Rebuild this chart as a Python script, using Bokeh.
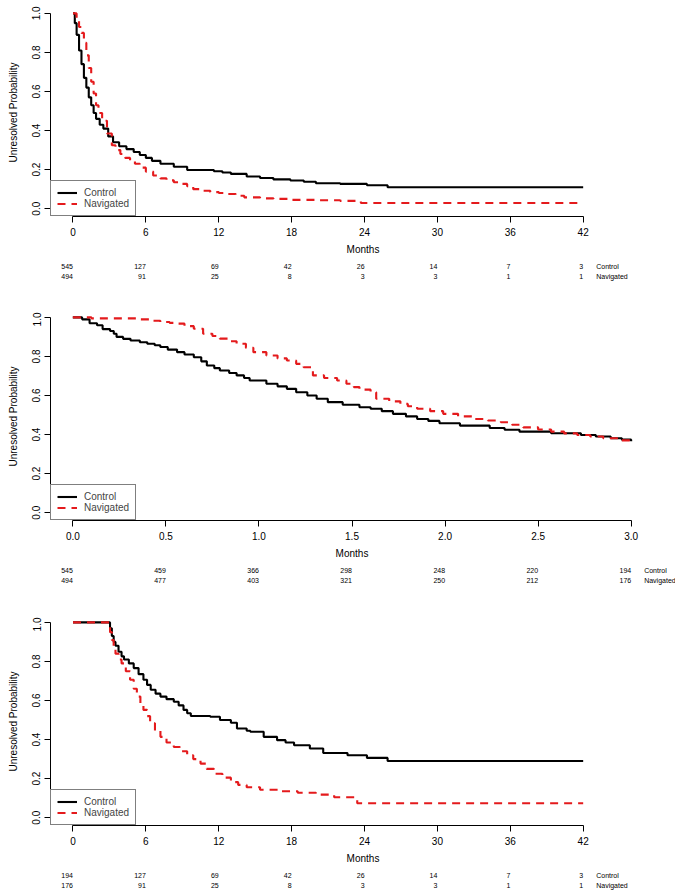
from bokeh.plotting import figure
from bokeh.models import Range1d, FixedTicker, NumeralTickFormatter, ColumnDataSource
from bokeh.core.properties import value
from bokeh.layouts import column
from bokeh.embed import file_html
from bokeh.resources import INLINE

FONT = "Liberation Sans"
RED = "#E41A1C"

# ---------------- data ----------------
# Panel 1: all patients, months
p1_ctrl_t = [0, 0.15, 0.3, 0.5, 0.7, 0.9, 1.1, 1.3, 1.5, 1.7, 1.9, 2.2, 2.5, 2.9, 3.3, 3.8, 4.4, 5.0, 5.5, 6.0,
             6.5, 7.2, 8.3, 9.4, 11.6, 12.3, 13.0, 14.3, 15.4, 16.5, 17.9, 19.0, 20.0, 22.0, 24.2, 25.9, 42]
p1_ctrl_s = [1.0, 0.95, 0.89, 0.81, 0.74, 0.67, 0.62, 0.57, 0.53, 0.49, 0.46, 0.43, 0.41, 0.37, 0.34, 0.32, 0.305,
             0.29, 0.275, 0.26, 0.245, 0.23, 0.215, 0.198, 0.192, 0.185, 0.178, 0.165, 0.157, 0.15, 0.144, 0.138,
             0.13, 0.127, 0.12, 0.11, 0.11]
p1_nav_t = [0, 0.3, 0.5, 0.7, 0.9, 1.1, 1.3, 1.5, 1.7, 1.9, 2.1, 2.4, 2.8, 3.2, 3.5, 3.9, 4.3, 4.7, 5.1, 5.5, 6.0,
            6.6, 7.2, 7.7, 8.3, 8.8, 9.4, 9.9, 10.6, 11.3, 12.0, 12.7, 13.4, 14.1, 15.4, 16.5, 17.9, 20.0, 22.0,
            23.7, 42]
p1_nav_s = [1.0, 0.97, 0.93, 0.90, 0.85, 0.785, 0.72, 0.65, 0.59, 0.53, 0.49, 0.45, 0.385, 0.325, 0.30, 0.28, 0.26,
            0.245, 0.23, 0.21, 0.19, 0.17, 0.155, 0.145, 0.135, 0.127, 0.115, 0.10, 0.092, 0.085, 0.08, 0.075,
            0.066, 0.058, 0.053, 0.05, 0.045, 0.043, 0.04, 0.029, 0.029]

# Panel 2: first three months
p2_ctrl_t = [0, 0.05, 0.09, 0.13, 0.16, 0.2, 0.22, 0.235, 0.27, 0.31, 0.36, 0.4, 0.44, 0.47, 0.51, 0.56, 0.6, 0.65,
             0.69, 0.72, 0.76, 0.79, 0.84, 0.88, 0.92, 0.95, 1.04, 1.1, 1.15, 1.2, 1.26, 1.31, 1.37, 1.45, 1.54,
             1.6, 1.66, 1.72, 1.79, 1.85, 1.91, 1.97, 2.08, 2.24, 2.32, 2.4, 2.57, 2.73, 2.81, 2.89, 2.95, 3.0]
p2_ctrl_s = [1.0, 0.99, 0.97, 0.96, 0.94, 0.93, 0.916, 0.90, 0.89, 0.882, 0.873, 0.865, 0.857, 0.848, 0.835, 0.822,
             0.81, 0.796, 0.775, 0.754, 0.74, 0.728, 0.715, 0.703, 0.69, 0.677, 0.66, 0.647, 0.634, 0.617, 0.60,
             0.583, 0.566, 0.553, 0.54, 0.532, 0.52, 0.506, 0.493, 0.48, 0.47, 0.458, 0.446, 0.434, 0.425, 0.415,
             0.407, 0.398, 0.39, 0.381, 0.374, 0.366]
p2_nav_t = [0, 0.1, 0.36, 0.42, 0.47, 0.52, 0.56, 0.6, 0.65, 0.7, 0.75, 0.79, 0.84, 0.88, 0.93, 0.97, 1.04, 1.1,
            1.15, 1.2, 1.24, 1.29, 1.35, 1.42, 1.47, 1.51, 1.54, 1.6, 1.63, 1.7, 1.76, 1.8, 1.85, 1.92, 1.99, 2.07,
            2.15, 2.23, 2.3, 2.36, 2.42, 2.5, 2.57, 2.64, 2.71, 2.78, 2.85, 2.93, 3.0]
p2_nav_s = [1.0, 0.995, 0.99, 0.983, 0.976, 0.972, 0.968, 0.955, 0.942, 0.916, 0.905, 0.891, 0.878, 0.865, 0.844,
            0.822, 0.805, 0.79, 0.779, 0.762, 0.745, 0.703, 0.69, 0.677, 0.66, 0.643, 0.63, 0.617, 0.583, 0.57,
            0.557, 0.545, 0.532, 0.52, 0.506, 0.493, 0.48, 0.472, 0.463, 0.45, 0.437, 0.426, 0.415, 0.406, 0.398,
            0.39, 0.381, 0.37, 0.361]

# Panel 3: patients unresolved at three months
p3_ctrl_t = [0, 3.05, 3.2, 3.35, 3.5, 3.75, 4.0, 4.2, 4.6, 5.0, 5.4, 5.8, 6.1, 6.4, 6.8, 7.2, 7.7, 8.3, 8.7, 9.1,
             9.4, 9.7, 11.3, 12.1, 13.0, 13.5, 14.3, 14.6, 15.7, 16.8, 17.5, 18.2, 19.5, 20.6, 22.6, 24.2, 25.9, 42]
p3_ctrl_s = [1.0, 0.97, 0.93, 0.9, 0.88, 0.85, 0.826, 0.81, 0.79, 0.766, 0.735, 0.706, 0.68, 0.655, 0.635, 0.62,
             0.607, 0.594, 0.575, 0.552, 0.535, 0.521, 0.517, 0.5, 0.486, 0.457, 0.445, 0.44, 0.414, 0.397, 0.385,
             0.371, 0.354, 0.331, 0.32, 0.306, 0.29, 0.29]
p3_nav_t = [0, 3.05, 3.2, 3.35, 3.5, 3.75, 4.0, 4.35, 4.7, 5.0, 5.26, 5.55, 5.8, 6.1, 6.35, 6.75, 7.2, 7.7, 8.3,
            8.8, 9.4, 9.9, 10.5, 11.0, 11.6, 12.3, 13.0, 13.6, 14.3, 15.4, 17.0, 18.5, 20.0, 21.5, 23.4, 42]
p3_nav_s = [1.0, 0.95, 0.91, 0.88, 0.84, 0.81, 0.79, 0.75, 0.706, 0.66, 0.62, 0.585, 0.552, 0.52, 0.483, 0.445,
            0.414, 0.385, 0.362, 0.34, 0.32, 0.30, 0.277, 0.25, 0.225, 0.205, 0.182, 0.168, 0.156, 0.143, 0.135,
            0.128, 0.118, 0.105, 0.074, 0.074]

# at-risk tables
months_ticks = [0, 6, 12, 18, 24, 30, 36, 42]
early_ticks = [0, 0.5, 1.0, 1.5, 2.0, 2.5, 3.0]
p1_risk_ctrl = [545, 127, 69, 42, 26, 14, 7, 3]
p1_risk_nav = [494, 91, 25, 8, 3, 3, 1, 1]
p2_risk_ctrl = [545, 459, 366, 298, 248, 220, 194]
p2_risk_nav = [494, 477, 403, 321, 250, 212, 176]
p3_risk_ctrl = [194, 127, 69, 42, 26, 14, 7, 3]
p3_risk_nav = [176, 91, 25, 8, 3, 3, 1, 1]
y_ticks = [0.0, 0.2, 0.4, 0.6, 0.8, 1.0]
series_names = ["Control", "Navigated"]

LEFT = 50          # left border (px)
FH = 208           # frame height of each curve panel
TABLE_W = 625      # frame width of the at-risk strips
ROW_Y = [16.0, 5.7]  # row positions inside a 24px strip


def panel(ct, cs, nt, ns, xticks, xr, fw, right, top, bottom, fmt):
    p = figure(frame_width=fw, frame_height=FH, x_range=Range1d(*xr), y_range=Range1d(-0.04, 1.025),
               output_backend="svg", toolbar_location=None, min_border_left=LEFT, min_border_right=right,
               min_border_top=top, min_border_bottom=bottom)
    p.outline_line_color = None
    p.grid.visible = False
    p.step(ct, cs, mode="after", line_color="black", line_width=2.1, legend_label=series_names[0])
    p.step(nt, ns, mode="after", line_color=RED, line_width=2.1, line_dash="8 6", legend_label=series_names[1])

    for ax in (p.xaxis[0], p.yaxis[0]):
        ax.axis_line_color = "black"
        ax.axis_line_width = 1
        ax.major_tick_line_color = "black"
        ax.major_tick_out = 6
        ax.major_tick_in = 0
        ax.minor_tick_line_color = None
        ax.major_label_text_font = FONT
        ax.major_label_text_font_size = "10px"
        ax.major_label_text_color = "black"
        ax.axis_label_text_font = FONT
        ax.axis_label_text_font_size = "10px"
        ax.axis_label_text_font_style = "normal"
        ax.axis_label_text_color = "black"

    xa = p.xaxis[0]
    xa.ticker = FixedTicker(ticks=xticks)
    xa.bounds = (xticks[0], xticks[-1])
    if fmt:
        xa.formatter = NumeralTickFormatter(format="0.0")
    xa.major_label_standoff = 5
    xa.axis_label = "Months"
    xa.axis_label_standoff = 5

    ya = p.yaxis[0]
    ya.ticker = FixedTicker(ticks=y_ticks)
    ya.bounds = (0, 1)
    ya.formatter = NumeralTickFormatter(format="0.0")
    ya.major_label_orientation = "vertical"
    ya.major_label_standoff = 4
    ya.axis_label = "Unresolved Probability"
    ya.axis_label_standoff = 11

    lg = p.legend[0]
    lg.location = "bottom_left"
    lg.margin = 0
    lg.padding = 6
    lg.spacing = 0
    lg.label_height = 11
    lg.glyph_height = 11
    lg.glyph_width = 20
    lg.label_standoff = 7
    lg.label_text_font = FONT
    lg.label_text_font_size = "10px"
    lg.border_line_color = "black"
    lg.border_line_width = 1
    lg.background_fill_alpha = 1
    return p


def table(xticks, rc, rn, xr, fw, bottom):
    # same pixels-per-unit as the curve panel above, wider frame for the row names
    span = (xr[1] - xr[0]) * TABLE_W / fw
    t = figure(frame_width=TABLE_W, frame_height=24, x_range=Range1d(xr[0], xr[0] + span),
               y_range=Range1d(0, 24), output_backend="svg", toolbar_location=None,
               x_axis_location=None, y_axis_location=None, min_border_left=LEFT, min_border_right=0,
               min_border_top=0, min_border_bottom=bottom)
    t.outline_line_color = None
    t.grid.visible = False
    src = ColumnDataSource(dict(x=xticks, c=[str(v) for v in rc], n=[str(v) for v in rn],
                                yc=[ROW_Y[0]] * len(xticks), yn=[ROW_Y[1]] * len(xticks)))
    for col, ycol in (("c", "yc"), ("n", "yn")):
        t.text(x="x", y=ycol, text=col, source=src, text_align="right", text_baseline="middle",
               text_font=value(FONT), text_font_size="7px", text_color="black")
    t.text(x=[xticks[-1]] * 2, y=ROW_Y, text=series_names, x_offset=13, text_align="left",
           text_baseline="middle", text_font=value(FONT), text_font_size="7px", text_color="black")
    return t


xr1 = (-1.85, 49.6)
xr2 = (-0.12, 3.12)
f1 = panel(p1_ctrl_t, p1_ctrl_s, p1_nav_t, p1_nav_s, months_ticks, xr1, 625, 0, 8, 42, False)
t1 = table(months_ticks, p1_risk_ctrl, p1_risk_nav, xr1, 625, 30)
f2 = panel(p2_ctrl_t, p2_ctrl_s, p2_nav_t, p2_nav_s, early_ticks, xr2, 603, 22, 0, 42, True)
t2 = table(early_ticks, p2_risk_ctrl, p2_risk_nav, xr2, 603, 31)
f3 = panel(p3_ctrl_t, p3_ctrl_s, p3_nav_t, p3_nav_s, months_ticks, xr1, 625, 0, 0, 42, False)
t3 = table(months_ticks, p3_risk_ctrl, p3_risk_nav, xr1, 625, 2)

layout = column(f1, t1, f2, t2, f3, t3)
open("out.html", "w").write(file_html(layout, INLINE))
